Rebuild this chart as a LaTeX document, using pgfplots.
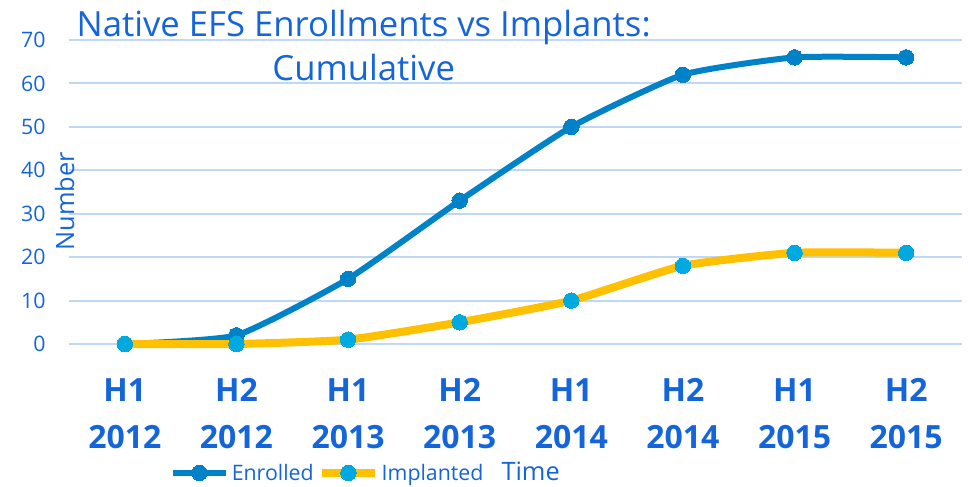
\documentclass[border=0pt]{standalone}
\usepackage{fontspec}
\setmainfont{Open Sans}
\usepackage{pgfplots}
\pgfplotsset{compat=1.18}
\definecolor{txtblue}{RGB}{21,101,218}
\definecolor{enrblue}{RGB}{0,130,200}
\definecolor{impyel}{RGB}{255,192,0}
\definecolor{impmark}{RGB}{0,170,225}
\definecolor{gridblue}{RGB}{190,216,246}
\begin{document}
\begin{tikzpicture}
\path[use as bounding box] (0,0) rectangle (726pt,364.5pt);
\begin{axis}[
  at={(51.75pt,106.5pt)}, anchor=south west,
  scale only axis, width=669.75pt, height=228pt,
  xmin=-0.5, xmax=7.5, ymin=0, ymax=70,
  axis line style={draw=none},
  major tick length=0pt,
  ytick={0,10,...,70},
  ymajorgrids, grid style={gridblue, line width=1.5pt},
  xtick={0,...,7},
  xticklabels={H1\\2012,H2\\2012,H1\\2013,H2\\2013,H1\\2014,H2\\2014,H1\\2015,H2\\2015},
  xticklabel style={align=center, font=\fontsize{24}{35}\selectfont\bfseries, text=txtblue, yshift=-22.5pt},
  yticklabel style={font=\fontsize{16}{19}\selectfont, text=txtblue, xshift=-14pt},
  /pgf/number format/assume math mode=true,
  ylabel={Number},
  ylabel style={at={(axis description cs:-0.005,0.47)}, anchor=center, font=\fontsize{19}{22}\selectfont, text=txtblue},
  xlabel={Time},
  xlabel style={at={(axis description cs:0.517,-0.42)}, anchor=center, font=\fontsize{19}{22}\selectfont, text=txtblue},
  title={Native EFS Enrollments vs Implants:\\Cumulative},
  title style={at={(axis description cs:0.330,1.088)}, anchor=north, align=center, font=\fontsize{26}{33}\selectfont, text=txtblue},
  legend columns=2,
  legend style={at={(axis description cs:0.290,-0.424)}, anchor=center, draw=none, fill=none,
    font=\fontsize{16}{19}\selectfont, text=txtblue,
    /tikz/every even column/.append style={column sep=1pt}},
  legend image code/.code={\draw[mark repeat=2,mark phase=2] plot coordinates {(0pt,0pt) (20pt,0pt) (40pt,0pt)};},
  clip=false,
]
\addplot[color=enrblue, line width=4.5pt, smooth, tension=0.3, mark=*, mark size=5.8pt, mark options={fill=enrblue, draw=enrblue, line width=0pt}]
  coordinates {(0,0) (1,2) (2,15) (3,33) (4,50) (5,62) (6,66) (7,66)};
\addlegendentry{Enrolled}
\addplot[color=impyel, line width=6pt, smooth, tension=0.3, mark=*, mark size=5.8pt, mark options={fill=impmark, draw=impmark, line width=0pt}]
  coordinates {(0,0) (1,0) (2,1) (3,5) (4,10) (5,18) (6,21) (7,21)};
\addlegendentry{Implanted}
\end{axis}
\end{tikzpicture}
\end{document}
